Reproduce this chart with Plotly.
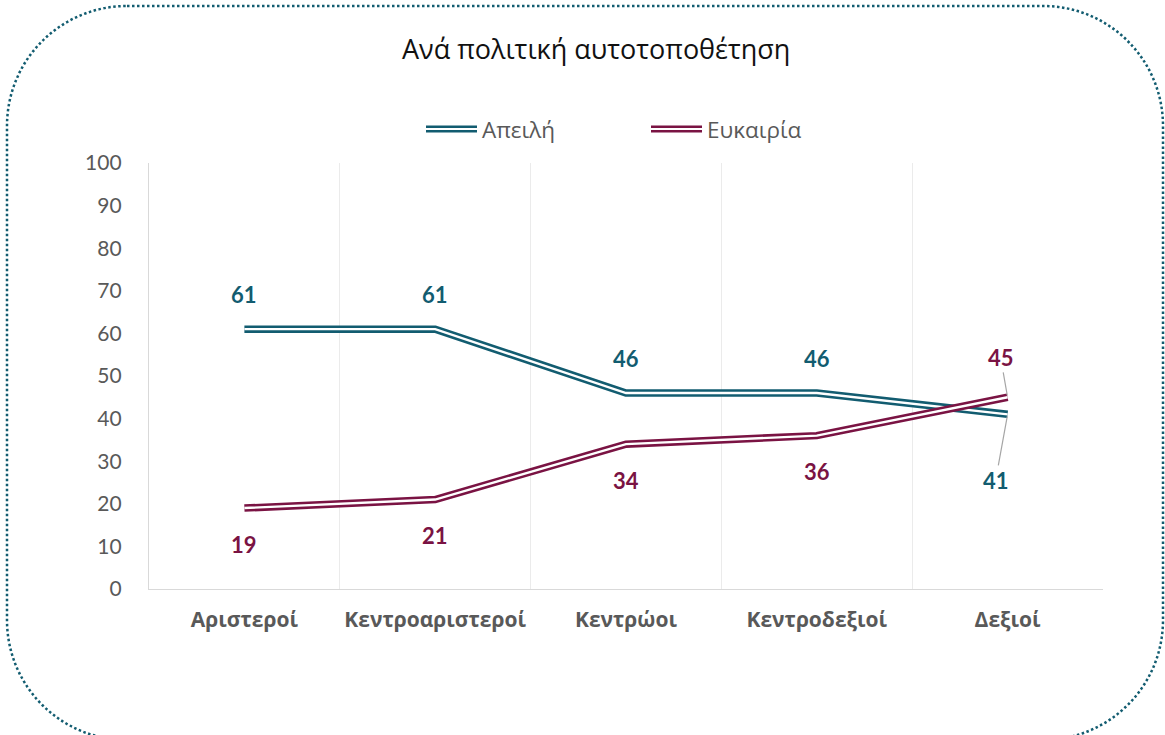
import plotly.graph_objects as go

categories = ["Αριστεροί", "Κεντροαριστεροί", "Κεντρώοι", "Κεντροδεξιοί", "Δεξιοί"]
threat = [61, 61, 46, 46, 41]        # Απειλή
opportunity = [19, 21, 34, 36, 45]   # Ευκαιρία
series_names = ["Απειλή", "Ευκαιρία"]
y_ticks = [0, 10, 20, 30, 40, 50, 60, 70, 80, 90, 100]

TEAL = "#125C70"
MAROON = "#7A1343"
GREY_TXT = "#595959"

W, H = 1165, 735
L, R, T, B = 149, 1103, 163, 589  # plot area in pixels


def px(x):
    return (x - L) / (R - L)


def py(y):
    return (B - y) / (B - T)


fig = go.Figure()

for vals, col, name in [(threat, TEAL, series_names[0]), (opportunity, MAROON, series_names[1])]:
    fig.add_trace(go.Scatter(x=categories, y=vals, mode="lines", name=name,
                             line=dict(color=col, width=7.5), showlegend=False,
                             hoverinfo="skip"))
    fig.add_trace(go.Scatter(x=categories, y=vals, mode="lines", name=name,
                             line=dict(color="white", width=2.4), showlegend=False,
                             hoverinfo="skip"))

LBL_FONT = "Lato"
annotations = []
for i, (c, v) in enumerate(zip(categories, threat)):
    if i < 4:
        annotations.append(dict(x=c, y=v, text=f"<b>{v}</b>", showarrow=False, yshift=35,
                                font=dict(family=LBL_FONT, size=22, color=TEAL)))
    else:
        annotations.append(dict(x=c, y=v, text=f"<b>{v}</b>", showarrow=True, arrowhead=0,
                                arrowwidth=1.2, arrowcolor="#A6A6A6", ax=-12, ay=66,
                                standoff=2, font=dict(family=LBL_FONT, size=22, color=TEAL)))
for i, (c, v) in enumerate(zip(categories, opportunity)):
    if i < 4:
        annotations.append(dict(x=c, y=v, text=f"<b>{v}</b>", showarrow=False, yshift=-36,
                                font=dict(family=LBL_FONT, size=22, color=MAROON)))
    else:
        annotations.append(dict(x=c, y=v, text=f"<b>{v}</b>", showarrow=True, arrowhead=0,
                                arrowwidth=1.2, arrowcolor="#A6A6A6", ax=-7, ay=-40,
                                standoff=2, font=dict(family=LBL_FONT, size=22, color=MAROON)))

# Title
annotations.append(dict(xref="paper", yref="paper", x=px(596), y=py(48), text="Ανά πολιτική αυτοτοποθέτηση",
                        showarrow=False, xanchor="center", yanchor="middle",
                        font=dict(family="Open Sans", size=27, color="#111111")))

# Manual legend
shapes = []
legend_items = [(series_names[0], TEAL, 426), (series_names[1], MAROON, 651)]
for name, col, x0 in legend_items:
    ly = py(129)
    shapes.append(dict(type="line", xref="paper", yref="paper", x0=px(x0), x1=px(x0 + 51),
                       y0=ly, y1=ly, line=dict(color=col, width=7)))
    shapes.append(dict(type="line", xref="paper", yref="paper", x0=px(x0), x1=px(x0 + 51),
                       y0=ly, y1=ly, line=dict(color="white", width=2)))
    annotations.append(dict(xref="paper", yref="paper", x=px(x0 + 54), y=ly, text=name,
                            showarrow=False, xanchor="left", yanchor="middle",
                            font=dict(family="Open Sans", size=22.5, color=GREY_TXT)))

# Rounded dotted border
x0b, y0b, x1b, y1b, r = 7, 6, 1163, 740, 120
k = 0.5523 * r


def P(x, y):
    return f"{px(x):.5f},{py(y):.5f}"


path = (
    f"M {P(x0b + r, y0b)} L {P(x1b - r, y0b)} "
    f"C {P(x1b - r + k, y0b)} {P(x1b, y0b + r - k)} {P(x1b, y0b + r)} "
    f"L {P(x1b, y1b - r)} "
    f"C {P(x1b, y1b - r + k)} {P(x1b - r + k, y1b)} {P(x1b - r, y1b)} "
    f"L {P(x0b + r, y1b)} "
    f"C {P(x0b + r - k, y1b)} {P(x0b, y1b - r + k)} {P(x0b, y1b - r)} "
    f"L {P(x0b, y0b + r)} "
    f"C {P(x0b, y0b + r - k)} {P(x0b + r - k, y0b)} {P(x0b + r, y0b)} Z"
)
shapes.append(dict(type="path", xref="paper", yref="paper", path=path,
                   line=dict(color=TEAL, width=2.5, dash="2.5px,2.5px"), layer="above"))

fig.update_layout(
    width=W, height=H,
    margin=dict(l=L, r=W - R, t=T, b=H - B, autoexpand=False),
    paper_bgcolor="white", plot_bgcolor="white",
    showlegend=False,
    annotations=annotations,
    shapes=shapes,
    xaxis=dict(type="category", categoryorder="array", categoryarray=categories,
               range=[-0.5, 4.5], tickson="boundaries", showgrid=True, gridcolor="#EBEBEB",
               gridwidth=1.3, showline=True, linecolor="#D9D9D9", linewidth=1.3,
               ticks="", tickfont=dict(family="Open Sans", size=21, color=GREY_TXT, weight="bold"),
               ticklabelstandoff=12, fixedrange=True),
    yaxis=dict(range=[0, 100], tickvals=y_ticks, showgrid=False, zeroline=False,
               showline=True, linecolor="#D9D9D9", linewidth=1.3, ticks="",
               tickfont=dict(family="Lato", size=21, color=GREY_TXT),
               ticklabelstandoff=22, fixedrange=True),
)

fig.write_html("out.html", config={"displayModeBar": False},
               post_script="document.body.style.margin='0';")
